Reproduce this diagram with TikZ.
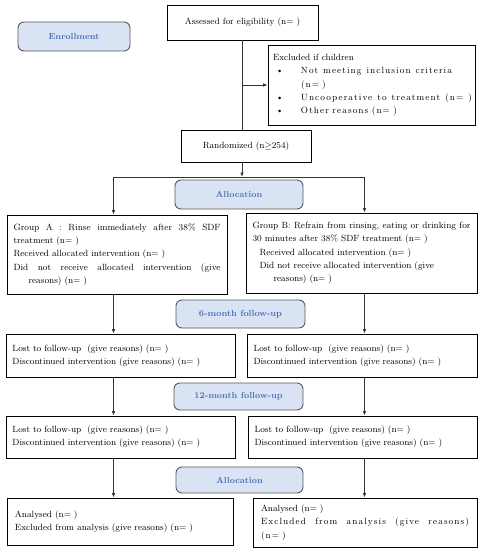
\documentclass[tikz,border=0pt]{standalone}
\usepackage{fontspec}
\setmainfont{Latin Modern Roman}
\usetikzlibrary{arrows.meta}
\definecolor{lblue}{HTML}{DAE3F3}
\definecolor{tblue}{HTML}{4A72B8}
\definecolor{agray}{HTML}{333333}
\newcommand\jline[2]{\makebox[#1pt][s]{\spaceskip=0pt\xspaceskip=0pt #2}}
\newcommand\lsp[1]{{\addfontfeature{LetterSpace=12}#1}}
\begin{document}
\begin{tikzpicture}[x=1pt,y=-1pt,
 box/.style={draw=black, line width=0.9pt, rectangle, inner xsep=6.5pt, inner ysep=0pt, align=left,
   font=\fontsize{9}{13.3}\selectfont},
 phase/.style={draw=black!65, fill=lblue, rounded corners=6pt, line width=0.9pt,
   font=\fontsize{8.8}{11}\selectfont\bfseries, text=tblue, inner sep=0pt},
 arr/.style={draw=agray, line width=0.9pt, -{Latex[length=4.5pt,width=3.6pt]}},
 ln/.style={draw=agray, line width=0.9pt}]
\path[use as bounding box, fill=white] (0,0) rectangle (482,550);

\node[phase, minimum width=112pt, minimum height=29pt] (enroll) at (74,36.5) {Enrollment};
\node[box, minimum width=151pt, minimum height=35pt, align=center] (assess) at (242.5,22.5) {Assessed for eligibility (n= )};
\node[box, inner xsep=5pt, text width=197pt, minimum height=80pt] (excl) at (371.5,85)
 {Excluded if children\\
  \hspace*{3pt}\makebox[25pt][l]{\textbullet}\jline{151}{\lsp{Not meeting inclusion criteria}}\\
  \hspace*{28pt}\lsp{(n= )}\\
  \hspace*{3pt}\makebox[25pt][l]{\textbullet}\jline{171}{\lsp{Uncooperative to treatment (n= )}}\\
  \hspace*{3pt}\makebox[25pt][l]{\textbullet}\jline{96}{\lsp{Other reasons (n= )}}};
\node[box, minimum width=130pt, minimum height=32pt, align=center] (rand) at (246,146) {Randomized (n$\geq$254)};

\node[phase, minimum width=128pt, minimum height=29pt] (alloc1) at (239,194.5) {Allocation};
\node[box, text width=207pt, minimum height=79pt] (ga) at (117,254.5)
 {\jline{207}{Group A : Rinse immediately after 38\% SDF}\\
  treatment (n= )\\
  Received allocated intervention (n= )\\
  \jline{207}{Did not receive allocated intervention (give}\\
  \hspace*{15pt}reasons) (n= )};
\node[box, text width=218pt, minimum height=80pt] (gb) at (361.5,253)
 {\jline{218}{Group B: Refrain from rinsing, eating or drinking for}\\
  30 minutes after 38\% SDF treatment (n= )\\
  \hspace*{7pt}Received allocated intervention (n= )\\
  \hspace*{7pt}Did not receive allocated intervention (give\\
  \hspace*{21pt}reasons) (n= )};

\node[phase, minimum width=129pt, minimum height=28pt] (fu6) at (240.5,314) {6-month follow-up};
\node[box, text width=216pt, minimum height=43pt] (r1l) at (120.5,355.5)
 {Lost to follow-up\ \ (give reasons) (n= )\\ Discontinued intervention (give reasons) (n= )};
\node[box, text width=217pt, minimum height=43pt] (r1r) at (362,355.5)
 {Lost to follow-up\ \ (give reasons) (n= )\\ Discontinued intervention (give reasons) (n= )};

\node[phase, minimum width=129pt, minimum height=27pt] (fu12) at (238.5,396.5) {12-month follow-up};
\node[box, text width=216pt, minimum height=42pt] (r2l) at (120.5,437)
 {Lost to follow-up\ \ (give reasons) (n= )\\ Discontinued intervention (give reasons) (n= )};
\node[box, text width=216pt, minimum height=42pt] (r2r) at (362.5,437)
 {Lost to follow-up\ \ (give reasons) (n= )\\ Discontinued intervention (give reasons) (n= )};

\node[phase, minimum width=127pt, minimum height=26pt] (alloc2) at (239.5,480) {Allocation};
\node[box, inner xsep=8pt, text width=210pt, minimum height=47pt] (r3l) at (120,521.5)
 {Analysed (n= )\\ Excluded from analysis (give reasons) (n= )};
\node[box, inner xsep=8pt, text width=208pt, minimum height=49pt] (r3r) at (365,522.5)
 {Analysed (n= )\\ \jline{208}{\lsp{Excluded from analysis (give reasons)}}\\ \lsp{(n= )}};

% connectors
\coordinate (split) at (242,177);
\coordinate (jl) at (113.5,177);
\coordinate (jr) at (364.5,177);
\draw[ln] (assess.south -| split) -- (rand.north -| split);
\draw[arr] (split |- excl.west) -- (excl.west);
\draw[arr] (rand.south -| split) -- (split);
\draw[ln] (jl) -- (jr);
\draw[arr] (jl) -- (jl |- ga.north);
\draw[arr] (jr) -- (jr |- gb.north);
\draw[arr] (jl |- ga.south) -- (jl |- r1l.north);
\draw[arr] (jr |- gb.south) -- (jr |- r1r.north);
\draw[arr] (jl |- r1l.south) -- (jl |- r2l.north);
\draw[arr] (jr |- r1r.south) -- (jr |- r2r.north);
\draw[arr] (jl |- r2l.south) -- (jl |- r3l.north);
\draw[arr] (jr |- r2r.south) -- (jr |- r3r.north);
\end{tikzpicture}
\end{document}
